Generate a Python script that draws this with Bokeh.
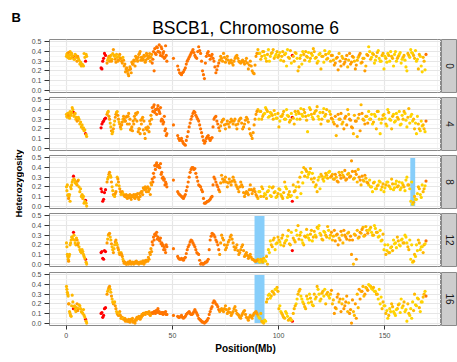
from math import pi

from bokeh.core.properties import value
from bokeh.embed import file_html
from bokeh.layouts import column, row
from bokeh.models import ColumnDataSource, FixedTicker, PrintfTickFormatter, Range1d
from bokeh.plotting import figure
from bokeh.resources import INLINE

# ---------------------------------------------------------------- data
generations = ["0", "4", "8", "12", "16"]

# marker positions along chromosome 6 (Mb); later blocks hold the
# additional markers that interleave with the first set
position_mb = [
    0.1, 0.5, 0.9, 1.3, 1.8, 2.3, 2.8, 3.4, 3.9, 4.5, 5.1, 5.7, 6.4, 7.1, 7.8, 8.4, 9.1, 9.6,
    16.4, 16.8, 17.2, 17.6, 18.0, 18.5,
    19.2, 19.8, 20.4, 21.0, 21.6, 22.2, 22.8, 23.4, 24.0, 24.6, 25.2, 25.8, 26.4, 27.0,
    27.6, 28.2, 28.8, 29.4, 30.0, 30.6, 31.2, 31.8, 32.4, 33.0, 33.6, 34.2, 34.8, 35.4,
    36.0, 36.6, 37.2, 37.8, 38.4, 39.0, 39.6, 40.2,
    40.8, 41.4, 42.0, 42.6, 43.2, 43.8, 44.4, 45.0, 45.6, 46.2, 46.8, 47.4,
    50.5,
    52.5, 53.4, 54.3, 55.2, 56.1, 57.0, 57.9, 58.8, 59.7, 60.6,
    61.5, 62.4, 63.3, 64.2, 65.1, 66.0, 66.9, 67.8, 68.7, 69.6,
    70.5, 71.4, 72.3, 73.2, 74.1, 75.0, 75.9, 76.8, 77.7, 78.6,
    79.5, 80.4, 81.3, 82.2, 83.1, 84.0, 84.9, 85.8, 86.7, 87.6,
    88.5, 89.4, 90.3, 91.2, 92.1, 93.0, 93.9, 94.8, 95.7, 96.6,
    97.5, 98.4, 99.3, 100.2, 101.1, 102.0, 102.9, 103.8, 104.7, 105.6,
    106.5, 107.4, 108.3, 109.2, 110.1, 111.0, 111.9, 112.8, 113.7, 114.6,
    115.5, 116.4, 117.3, 118.2, 119.1, 120.0, 120.9, 121.8, 122.7, 123.6,
    124.5, 125.4, 126.3, 127.2, 128.1, 129.0, 129.9, 130.8, 131.7, 132.6,
    133.5, 134.4, 135.3, 136.2, 137.1, 138.0, 138.9, 139.8, 140.7, 141.6,
    142.5, 143.4, 144.3, 145.2, 146.1, 147.0, 147.9, 148.8, 149.7, 150.6,
    151.5, 152.4, 153.3, 154.2, 155.1, 156.0, 156.9, 157.8, 158.7, 159.6,
    160.5, 161.4, 162.3, 163.2, 164.1, 165.0, 165.9, 166.8, 167.7, 168.6,
    169.5,
    90.75, 91.65, 92.55, 93.45, 94.35, 95.25, 96.15, 97.05, 97.95, 98.85,
    99.75, 100.65, 101.55, 102.45, 103.35, 104.25, 105.15, 106.05, 106.95, 107.85,
    108.75, 109.65, 110.55, 111.45, 112.35, 113.25, 114.15, 115.05, 115.95, 116.85,
    117.75, 118.65, 119.55, 120.45, 121.35, 122.25, 123.15, 124.05, 124.95, 125.85,
    126.75, 127.65, 128.55, 129.45, 130.35, 131.25, 132.15, 133.05, 133.95, 134.85,
    135.75, 136.65, 137.55, 138.45, 139.35, 140.25, 141.15, 142.05, 142.95, 143.85,
    144.75, 145.65, 146.55, 147.45, 148.35, 149.25, 150.15, 151.05, 151.95, 152.85,
    153.75, 154.65, 155.55, 156.45, 157.35, 158.25, 159.15, 160.05, 160.95, 161.85,
    162.75, 163.65, 164.55, 165.45, 166.35, 167.25, 168.15, 169.05,
    0.3, 0.7, 1.1, 1.55, 2.05, 2.55, 3.1, 3.65, 4.2, 4.8, 5.4, 6.0, 6.75, 7.45, 8.1, 8.75, 9.35,
    19.5, 20.1, 20.7, 21.3, 21.9, 22.5, 23.1, 23.7, 24.3, 24.9, 25.5, 26.1, 26.7,
    27.3, 27.9, 28.5, 29.1, 29.7, 30.3, 30.9, 31.5, 32.1, 32.7, 33.3, 33.9, 34.5, 35.1,
    35.7, 36.3, 36.9, 37.5, 38.1, 38.7, 39.3, 39.9,
    40.5, 41.1, 41.7, 42.3, 42.9, 43.5, 44.1, 44.7, 45.3, 45.9, 46.5, 47.1,
    52.95, 53.85, 54.75, 55.65, 56.55, 57.45, 58.35, 59.25, 60.15, 61.05, 61.95,
    62.85, 63.75, 64.65, 65.55, 66.45, 67.35, 68.25, 69.15, 70.05, 70.95, 71.85,
    72.75, 73.65, 74.55, 75.45, 76.35, 77.25, 78.15, 79.05, 79.95, 80.85,
    81.75, 82.65, 83.55, 84.45, 85.35, 86.25, 87.15, 88.05, 88.95, 89.85,
]

# colour class of each marker (0 = red ... 4 = yellow)
shade = [
    3, 3, 3, 3, 3, 3, 3, 0, 3, 3, 2, 3, 3, 3, 3, 3, 0, 3,
    0, 0, 0, 0, 0, 0,
    2, 3, 2, 3, 3, 2, 3, 2, 3, 2, 2, 3, 2, 2,
    2, 2, 2, 2, 2, 2, 2, 2, 2, 2, 2, 2, 2, 2, 2, 2, 2, 2, 2, 2, 2, 2,
    1, 1, 1, 1, 1, 1, 1, 1, 1, 1, 1, 1,
    1,
    1, 1, 1, 1, 1, 1, 1, 1, 1, 1, 1, 1, 1, 1, 1, 1, 1, 1, 1, 1, 1, 1,
    2, 2, 2, 2, 2, 2, 2, 2, 2, 2, 2, 2, 2, 2, 2, 2, 2, 2, 2, 2,
    3, 4, 3, 3, 4, 3, 4, 3, 3, 4, 3, 3, 4, 3, 3, 4, 3, 3,
    0,
    3, 4, 3, 3, 4, 3, 3, 4, 4, 3, 3, 4, 3, 4, 3, 3, 4, 3, 4, 3,
    3, 2, 3, 2, 2, 3, 2, 2, 3, 2, 2, 3, 2, 3, 2, 3, 3, 2, 3,
    4, 3, 4, 4, 3, 4, 4, 3, 4, 3, 4, 4, 3, 4, 4, 3, 4, 4, 3, 4, 4, 3, 4, 4, 3, 4, 3, 4, 4, 3,
    1,
    4, 3, 3, 4, 3, 4, 4, 3, 3, 4, 3, 4, 3, 3, 4, 4, 3, 4, 3, 3,
    4, 3, 4, 4, 3, 3, 4, 3, 4, 3, 3, 4, 4, 3, 4, 3, 3, 4,
    2, 3, 2, 2, 3, 2, 3, 2, 2, 3, 2, 2, 3, 2, 3, 2, 2, 3, 3, 2,
    4, 4, 3, 4, 3, 4, 4, 3, 4, 4, 3, 4, 3, 4, 4, 3, 4, 4, 3, 4,
    3, 4, 4, 3, 4, 4, 3, 4, 3, 4,
    3, 3, 2, 3, 3, 3, 3, 3, 3, 3, 2, 3, 3, 3, 3, 3, 3,
    3, 2, 3, 2, 3, 3, 2, 3, 2, 3, 2, 2, 3,
    2, 2, 2, 2, 2, 2, 2, 2, 2, 2, 2, 2, 2, 2, 2, 2, 2, 2, 2, 2, 2, 2,
    1, 1, 1, 1, 1, 1, 1, 1, 1, 1, 1, 1,
    1, 1, 1, 1, 1, 1, 1, 1, 1, 1, 1, 1, 1, 1, 1, 1, 1, 1, 1, 1, 1, 1,
    2, 2, 2, 2, 2, 2, 2, 2, 2, 2, 2, 2, 2, 2, 2, 2, 2, 2, 2, 2,
]

het_g0 = [
    0.35, 0.38, 0.36, 0.33, 0.40, 0.37, 0.34, 0.35, 0.32, 0.36, 0.30, 0.33, 0.27, 0.25, 0.26, 0.38, 0.30, 0.35,
    0.23, 0.22, 0.30, 0.33, 0.38, 0.36,
    0.28, 0.33, 0.30, 0.36, 0.32, 0.42, 0.35, 0.29, 0.34, 0.31, 0.37, 0.33, 0.28, 0.31,
    0.27, 0.22, 0.20, 0.15, 0.24, 0.18, 0.27, 0.31, 0.25, 0.33, 0.30, 0.37, 0.40, 0.34,
    0.31, 0.36, 0.29, 0.38, 0.33, 0.35, 0.30, 0.37,
    0.32, 0.20, 0.38, 0.45, 0.40, 0.47, 0.36, 0.43, 0.38, 0.33, 0.46, 0.30,
    0.33,
    0.25, 0.18, 0.16, 0.19, 0.23, 0.30, 0.34, 0.38, 0.42, 0.36,
    0.33, 0.45, 0.38, 0.20, 0.12, 0.35, 0.40, 0.32, 0.37, 0.30,
    0.18, 0.25, 0.31, 0.33, 0.38, 0.29, 0.35, 0.28, 0.31, 0.26,
    0.33, 0.36, 0.30, 0.28, 0.31, 0.27, 0.33, 0.22, 0.30, 0.20,
    0.17, 0.35, 0.42, 0.38, 0.35, 0.40, 0.33, 0.37, 0.30, 0.38,
    0.42, 0.35, 0.40, 0.36, 0.31, 0.40, 0.37, 0.25, 0.34, 0.41,
    0.36, 0.30, 0.38, 0.20, 0.33, 0.27, 0.37, 0.40, 0.34, 0.30,
    0.38, 0.43, 0.33, 0.28, 0.37, 0.22, 0.35, 0.41, 0.32, 0.38,
    0.30, 0.36, 0.26, 0.33, 0.21, 0.30, 0.35, 0.27, 0.32, 0.24,
    0.38, 0.29, 0.34, 0.22, 0.31, 0.36, 0.28, 0.33, 0.20, 0.37,
    0.45, 0.32, 0.38, 0.28, 0.35, 0.41, 0.30, 0.36, 0.22, 0.33,
    0.38, 0.30, 0.35, 0.25, 0.40, 0.33, 0.37, 0.28, 0.34, 0.31,
    0.20, 0.36, 0.42, 0.38, 0.33, 0.30, 0.22, 0.35, 0.19, 0.30,
    0.37,
    0.38, 0.32, 0.40, 0.36, 0.30, 0.42, 0.35, 0.39, 0.33, 0.37,
    0.34, 0.39, 0.35, 0.30, 0.38, 0.42, 0.33, 0.28, 0.35, 0.39,
    0.33, 0.24, 0.36, 0.40, 0.31, 0.35, 0.39, 0.33, 0.36, 0.40,
    0.34, 0.30, 0.38, 0.35, 0.29, 0.37, 0.33, 0.40, 0.36, 0.31,
    0.28, 0.34, 0.38, 0.25, 0.33, 0.29, 0.36, 0.31, 0.27, 0.35,
    0.30, 0.26, 0.34, 0.38, 0.29, 0.33, 0.25, 0.36, 0.40, 0.34,
    0.37, 0.31, 0.39, 0.33, 0.30, 0.38, 0.35, 0.29, 0.36, 0.40,
    0.33, 0.37, 0.30, 0.35, 0.39, 0.32, 0.36, 0.24, 0.38, 0.34,
    0.39, 0.36, 0.41, 0.32, 0.37, 0.25, 0.34, 0.21,
    0.37, 0.34, 0.39, 0.36, 0.33, 0.38, 0.35, 0.32, 0.37, 0.34, 0.35, 0.31, 0.29, 0.27, 0.25, 0.34, 0.37,
    0.31, 0.35, 0.33, 0.30, 0.38, 0.36, 0.32, 0.37, 0.30, 0.35, 0.33, 0.30, 0.34,
    0.25, 0.19, 0.23, 0.17, 0.21, 0.22, 0.29, 0.27, 0.30, 0.35, 0.32, 0.34, 0.38, 0.31,
    0.34, 0.32, 0.35, 0.31, 0.36, 0.33, 0.38, 0.34,
    0.28, 0.40, 0.43, 0.37, 0.44, 0.40, 0.39, 0.45, 0.35, 0.40, 0.34, 0.36,
    0.21, 0.17, 0.18, 0.21, 0.27, 0.32, 0.36, 0.40, 0.39, 0.34, 0.40,
    0.41, 0.30, 0.16, 0.28, 0.38, 0.36, 0.35, 0.33, 0.24, 0.21, 0.28,
    0.35, 0.30, 0.34, 0.32, 0.31, 0.29, 0.28, 0.30, 0.35, 0.33,
    0.29, 0.30, 0.29, 0.30, 0.28, 0.26, 0.25, 0.18, 0.26, 0.38,
]

het_g4 = [
    0.35, 0.32, 0.36, 0.33, 0.38, 0.34, 0.42, 0.37, 0.35, 0.30, 0.28, 0.32, 0.25, 0.22, 0.20, 0.18, 0.15, 0.12,
    0.21, 0.25, 0.27, 0.28, 0.30, 0.31,
    0.35, 0.38, 0.30, 0.22, 0.15, 0.20, 0.28, 0.35, 0.38, 0.30, 0.25, 0.20, 0.27, 0.33,
    0.28, 0.32, 0.25, 0.36, 0.30, 0.20, 0.18, 0.25, 0.30, 0.35, 0.37, 0.20, 0.15, 0.25,
    0.32, 0.28, 0.10, 0.20, 0.22, 0.17, 0.25, 0.30,
    0.38, 0.45, 0.40, 0.35, 0.44, 0.38, 0.42, 0.30, 0.25, 0.33, 0.20, 0.15,
    0.24,
    0.13, 0.08, 0.10, 0.05, 0.03, 0.12, 0.22, 0.30, 0.36, 0.37,
    0.32, 0.28, 0.20, 0.12, 0.05, 0.10, 0.13, 0.08, 0.11, 0.30,
    0.33, 0.25, 0.18, 0.27, 0.30, 0.20, 0.28, 0.22, 0.30, 0.25,
    0.30, 0.20, 0.28, 0.31, 0.20, 0.25, 0.32, 0.27, 0.15, 0.10,
    0.24, 0.35, 0.40, 0.38, 0.30, 0.35, 0.42, 0.38, 0.33, 0.36,
    0.30, 0.35, 0.31, 0.22, 0.33, 0.35, 0.30, 0.40, 0.33, 0.29,
    0.32, 0.25, 0.35, 0.38, 0.30, 0.35, 0.40, 0.33, 0.17, 0.42,
    0.35, 0.30, 0.38, 0.43, 0.30, 0.25, 0.37, 0.33, 0.40, 0.28,
    0.35, 0.30, 0.25, 0.13, 0.35, 0.30, 0.25, 0.20, 0.33, 0.40,
    0.30, 0.22, 0.15, 0.28, 0.12, 0.35, 0.45, 0.30, 0.25, 0.33,
    0.38, 0.30, 0.25, 0.35, 0.20, 0.38, 0.15, 0.30, 0.35, 0.25,
    0.40, 0.30, 0.20, 0.35, 0.28, 0.32, 0.38, 0.25, 0.30, 0.36,
    0.22, 0.41, 0.33, 0.28, 0.20, 0.15, 0.25, 0.18, 0.23, 0.20,
    0.28,
    0.30, 0.38, 0.33, 0.36, 0.40, 0.32, 0.37, 0.34, 0.39, 0.31,
    0.36, 0.28, 0.33, 0.38, 0.30, 0.34, 0.27, 0.36, 0.31, 0.38,
    0.30, 0.36, 0.41, 0.33, 0.37, 0.29, 0.34, 0.40, 0.32, 0.36,
    0.39, 0.33, 0.37, 0.30, 0.41, 0.35, 0.28, 0.38, 0.31, 0.27,
    0.33, 0.23, 0.30, 0.36, 0.27, 0.31, 0.24, 0.35, 0.29, 0.21,
    0.34, 0.28, 0.31, 0.18, 0.36, 0.29, 0.33, 0.26, 0.30, 0.35,
    0.27, 0.33, 0.38, 0.30, 0.26, 0.34, 0.31, 0.23, 0.37, 0.29,
    0.33, 0.27, 0.36, 0.30, 0.24, 0.34, 0.38, 0.29, 0.32, 0.26,
    0.35, 0.30, 0.26, 0.33, 0.20, 0.28, 0.24, 0.17,
    0.33, 0.36, 0.34, 0.31, 0.35, 0.37, 0.40, 0.33, 0.36, 0.32, 0.29, 0.30, 0.27, 0.24, 0.21, 0.19, 0.14,
    0.37, 0.33, 0.26, 0.18, 0.17, 0.24, 0.32, 0.37, 0.34, 0.27, 0.22, 0.24, 0.30,
    0.30, 0.28, 0.33, 0.33, 0.25, 0.19, 0.22, 0.28, 0.33, 0.36, 0.28, 0.17, 0.20, 0.29,
    0.30, 0.19, 0.15, 0.21, 0.19, 0.21, 0.28, 0.34,
    0.42, 0.43, 0.37, 0.40, 0.41, 0.40, 0.36, 0.28, 0.29, 0.27, 0.18, 0.13,
    0.10, 0.09, 0.07, 0.04, 0.08, 0.17, 0.26, 0.33, 0.38, 0.34, 0.30,
    0.24, 0.16, 0.08, 0.07, 0.12, 0.10, 0.10, 0.22, 0.32, 0.28, 0.21,
    0.23, 0.29, 0.24, 0.25, 0.25, 0.27, 0.28, 0.28, 0.24, 0.25,
    0.30, 0.26, 0.22, 0.29, 0.30, 0.20, 0.13, 0.16, 0.30, 0.38,
]

het_g8 = [
    0.20, 0.22, 0.12, 0.10, 0.05, 0.18, 0.25, 0.31, 0.27, 0.25, 0.22, 0.27, 0.15, 0.10, 0.08, 0.03, 0.06, 0.00,
    0.18, 0.15, 0.05, 0.07, 0.14, 0.17,
    0.25, 0.30, 0.35, 0.30, 0.20, 0.12, 0.10, 0.15, 0.30, 0.25, 0.18, 0.12, 0.15, 0.12,
    0.10, 0.12, 0.08, 0.10, 0.12, 0.07, 0.10, 0.12, 0.08, 0.10, 0.13, 0.07, 0.10, 0.15,
    0.12, 0.18, 0.20, 0.15, 0.20, 0.17, 0.12, 0.22,
    0.25, 0.30, 0.38, 0.45, 0.42, 0.40, 0.44, 0.35, 0.30, 0.28, 0.25, 0.20,
    0.27,
    0.15, 0.12, 0.10, 0.08, 0.12, 0.20, 0.30, 0.38, 0.40, 0.39,
    0.30, 0.22, 0.20, 0.15, 0.03, 0.04, 0.05, 0.07, 0.10, 0.30,
    0.25, 0.20, 0.15, 0.32, 0.25, 0.30, 0.20, 0.28, 0.22, 0.30,
    0.25, 0.20, 0.15, 0.25, 0.20, 0.10, 0.15, 0.12, 0.22, 0.13,
    0.18, 0.12, 0.08, 0.15, 0.20, 0.10, 0.12, 0.15, 0.20, 0.10,
    0.20, 0.15, 0.10, 0.18, 0.12, 0.08, 0.25, 0.18, 0.12, 0.10,
    0.05, 0.15, 0.20, 0.25, 0.30, 0.35, 0.40, 0.38, 0.30, 0.35,
    0.28, 0.25, 0.20, 0.15, 0.30, 0.33, 0.28, 0.30, 0.32, 0.35,
    0.30, 0.33, 0.28, 0.30, 0.25, 0.32, 0.35, 0.30, 0.27, 0.33,
    0.30, 0.47, 0.28, 0.36, 0.25, 0.30, 0.22, 0.27, 0.32, 0.25,
    0.22, 0.20, 0.15, 0.25, 0.18, 0.22, 0.25, 0.20, 0.15, 0.22,
    0.25, 0.20, 0.28, 0.17, 0.23, 0.20, 0.25, 0.19, 0.22, 0.16,
    0.30, 0.22, 0.05, 0.02, 0.10, 0.07, 0.20, 0.12, 0.22, 0.18,
    0.26,
    0.15, 0.10, 0.18, 0.13, 0.08, 0.16, 0.11, 0.19, 0.14, 0.09,
    0.13, 0.17, 0.10, 0.14, 0.20, 0.09, 0.15, 0.11, 0.22, 0.16,
    0.09, 0.20, 0.13, 0.24, 0.31, 0.36, 0.33, 0.39, 0.34, 0.29,
    0.22, 0.27, 0.18, 0.31, 0.26, 0.34, 0.29, 0.36, 0.31, 0.28,
    0.33, 0.26, 0.35, 0.29, 0.32, 0.37, 0.28, 0.34, 0.31, 0.36,
    0.29, 0.33, 0.38, 0.27, 0.31, 0.26, 0.29, 0.24, 0.27, 0.20,
    0.24, 0.18, 0.21, 0.26, 0.17, 0.23, 0.19, 0.25, 0.21, 0.18,
    0.23, 0.19, 0.26, 0.21, 0.17, 0.24, 0.20, 0.27, 0.22, 0.18,
    0.25, 0.04, 0.07, 0.13, 0.18, 0.09, 0.15, 0.21,
    0.16, 0.11, 0.08, 0.12, 0.20, 0.22, 0.27, 0.28, 0.24, 0.23, 0.26, 0.20, 0.18, 0.12, 0.10, 0.05, 0.03,
    0.28, 0.33, 0.32, 0.25, 0.16, 0.11, 0.13, 0.22, 0.28, 0.21, 0.15, 0.14, 0.13,
    0.11, 0.10, 0.09, 0.11, 0.09, 0.09, 0.11, 0.10, 0.09, 0.12, 0.10, 0.09, 0.13, 0.14,
    0.15, 0.19, 0.17, 0.18, 0.19, 0.15, 0.18, 0.24,
    0.28, 0.34, 0.42, 0.43, 0.41, 0.42, 0.40, 0.33, 0.29, 0.27, 0.22, 0.23,
    0.13, 0.11, 0.09, 0.10, 0.16, 0.25, 0.35, 0.40, 0.38, 0.34, 0.26,
    0.21, 0.17, 0.08, 0.03, 0.05, 0.06, 0.09, 0.22, 0.28, 0.22, 0.17,
    0.24, 0.28, 0.27, 0.25, 0.24, 0.25, 0.26, 0.27, 0.22, 0.18,
    0.20, 0.22, 0.14, 0.13, 0.14, 0.17, 0.17, 0.16, 0.15, 0.10,
]

het_g12 = [
    0.22, 0.10, 0.05, 0.08, 0.20, 0.25, 0.28, 0.33, 0.25, 0.20, 0.25, 0.22, 0.15, 0.12, 0.13, 0.08, 0.05, 0.00,
    0.12, 0.13, 0.06, 0.05, 0.14, 0.13,
    0.22, 0.30, 0.32, 0.25, 0.18, 0.12, 0.20, 0.25, 0.20, 0.15, 0.10, 0.12, 0.08, 0.03,
    0.02, 0.00, 0.01, 0.00, 0.03, 0.00, 0.02, 0.00, 0.01, 0.03, 0.02, 0.00, 0.02, 0.01,
    0.03, 0.00, 0.02, 0.04, 0.03, 0.05, 0.10, 0.13,
    0.20, 0.25, 0.30, 0.33, 0.28, 0.25, 0.27, 0.22, 0.20, 0.18, 0.12, 0.18,
    0.16,
    0.08, 0.05, 0.06, 0.04, 0.07, 0.15, 0.20, 0.25, 0.22, 0.18,
    0.12, 0.10, 0.00, 0.00, 0.01, 0.02, 0.05, 0.25, 0.32, 0.30,
    0.25, 0.20, 0.10, 0.30, 0.25, 0.15, 0.20, 0.25, 0.30, 0.22,
    0.15, 0.20, 0.10, 0.15, 0.20, 0.08, 0.12, 0.06, 0.10, 0.05,
    0.04, 0.03, 0.05, 0.02, 0.04, 0.06, 0.03, 0.00, 0.12, 0.20,
    0.25, 0.15, 0.22, 0.25, 0.20, 0.30, 0.22, 0.25, 0.35, 0.20,
    0.14, 0.25, 0.35, 0.40, 0.30, 0.25, 0.20, 0.28, 0.30, 0.25,
    0.35, 0.28, 0.30, 0.38, 0.40, 0.30, 0.25, 0.33, 0.28, 0.35,
    0.30, 0.25, 0.35, 0.30, 0.20, 0.25, 0.30, 0.35, 0.28, 0.32,
    0.25, 0.10, 0.00, 0.30, 0.35, 0.28, 0.32, 0.38, 0.30, 0.35,
    0.35, 0.38, 0.30, 0.40, 0.33, 0.28, 0.35, 0.25, 0.15, 0.10,
    0.20, 0.12, 0.18, 0.25, 0.22, 0.28, 0.20, 0.25, 0.22, 0.30,
    0.22, 0.15, 0.05, 0.02, 0.10, 0.20, 0.25, 0.15, 0.18, 0.20,
    0.24,
    0.03, 0.05, 0.02, 0.04, 0.08, 0.15, 0.24, 0.18, 0.27, 0.21,
    0.28, 0.23, 0.27, 0.19, 0.24, 0.29, 0.21, 0.33, 0.27, 0.23,
    0.30, 0.26, 0.33, 0.22, 0.29, 0.36, 0.27, 0.31, 0.24, 0.34,
    0.28, 0.37, 0.32, 0.26, 0.34, 0.30, 0.39, 0.27, 0.33, 0.29,
    0.24, 0.31, 0.27, 0.34, 0.22, 0.30, 0.26, 0.33, 0.29, 0.25,
    0.31, 0.05, 0.27, 0.33, 0.36, 0.29, 0.39, 0.32, 0.36, 0.33,
    0.30, 0.37, 0.33, 0.29, 0.24, 0.31, 0.20, 0.14, 0.12, 0.17,
    0.14, 0.21, 0.17, 0.24, 0.19, 0.26, 0.22, 0.28, 0.18, 0.25,
    0.20, 0.03, 0.08, 0.14, 0.22, 0.18, 0.12, 0.21,
    0.18, 0.08, 0.03, 0.10, 0.22, 0.28, 0.26, 0.30, 0.22, 0.27, 0.20, 0.18, 0.13, 0.15, 0.10, 0.06, 0.02,
    0.26, 0.31, 0.28, 0.21, 0.15, 0.16, 0.23, 0.22, 0.17, 0.12, 0.11, 0.10, 0.05,
    0.01, 0.01, 0.00, 0.02, 0.01, 0.01, 0.01, 0.01, 0.02, 0.02, 0.01, 0.01, 0.01, 0.02,
    0.01, 0.03, 0.03, 0.04, 0.04, 0.07, 0.12, 0.16,
    0.23, 0.28, 0.31, 0.30, 0.26, 0.26, 0.24, 0.21, 0.19, 0.15, 0.15, 0.20,
    0.06, 0.05, 0.05, 0.06, 0.11, 0.18, 0.23, 0.24, 0.20, 0.15, 0.11,
    0.04, 0.01, 0.00, 0.02, 0.03, 0.15, 0.29, 0.31, 0.28, 0.23, 0.15,
    0.22, 0.27, 0.20, 0.17, 0.23, 0.28, 0.26, 0.18, 0.17, 0.14,
    0.12, 0.18, 0.14, 0.10, 0.09, 0.08, 0.07, 0.05, 0.03, 0.04,
]

het_g16 = [
    0.38, 0.32, 0.28, 0.20, 0.10, 0.07, 0.29, 0.15, 0.18, 0.12, 0.20, 0.15, 0.18, 0.12, 0.10, 0.08, 0.04, 0.00,
    0.10, 0.11, 0.06, 0.08, 0.15, 0.16,
    0.30, 0.35, 0.38, 0.32, 0.25, 0.20, 0.22, 0.15, 0.10, 0.08, 0.12, 0.05, 0.06, 0.04,
    0.05, 0.03, 0.02, 0.04, 0.01, 0.03, 0.05, 0.02, 0.00, 0.03, 0.05, 0.07, 0.04, 0.06,
    0.08, 0.10, 0.09, 0.11, 0.10, 0.12, 0.08, 0.10,
    0.10, 0.12, 0.10, 0.11, 0.15, 0.12, 0.10, 0.11, 0.09, 0.10, 0.12, 0.09,
    0.08,
    0.07, 0.06, 0.08, 0.05, 0.07, 0.10, 0.12, 0.09, 0.10, 0.14,
    0.10, 0.05, 0.03, 0.01, 0.00, 0.02, 0.05, 0.12, 0.17, 0.23,
    0.20, 0.17, 0.12, 0.15, 0.12, 0.18, 0.10, 0.15, 0.08, 0.12,
    0.17, 0.10, 0.08, 0.05, 0.10, 0.13, 0.06, 0.03, 0.08, 0.05,
    0.10, 0.12, 0.08, 0.05, 0.02, 0.00, 0.02, 0.25, 0.30, 0.28,
    0.32, 0.35, 0.37, 0.15, 0.12, 0.08, 0.05, 0.10, 0.03, 0.05,
    0.02, 0.15, 0.20, 0.30, 0.35, 0.25, 0.20, 0.15, 0.25, 0.30,
    0.22, 0.18, 0.25, 0.38, 0.30, 0.25, 0.33, 0.35, 0.30, 0.28,
    0.30, 0.20, 0.10, 0.15, 0.30, 0.25, 0.20, 0.15, 0.22, 0.12,
    0.10, 0.00, 0.12, 0.20, 0.30, 0.35, 0.33, 0.38, 0.30, 0.36,
    0.40, 0.38, 0.35, 0.33, 0.30, 0.25, 0.20, 0.15, 0.18, 0.10,
    0.05, 0.15, 0.20, 0.12, 0.08, 0.15, 0.20, 0.25, 0.18, 0.12,
    0.02, 0.10, 0.15, 0.22, 0.30, 0.18, 0.25, 0.12, 0.22, 0.30,
    0.28,
    0.06, 0.10, 0.01, 0.03, 0.22, 0.29, 0.26, 0.33, 0.30, 0.35,
    0.33, 0.18, 0.10, 0.06, 0.12, 0.07, 0.04, 0.03, 0.10, 0.18,
    0.25, 0.33, 0.28, 0.22, 0.17, 0.28, 0.21, 0.26, 0.19, 0.30,
    0.27, 0.35, 0.23, 0.31, 0.28, 0.20, 0.32, 0.26, 0.34, 0.24,
    0.16, 0.27, 0.22, 0.12, 0.25, 0.18, 0.28, 0.21, 0.14, 0.24,
    0.08, 0.05, 0.16, 0.25, 0.33, 0.28, 0.37, 0.34, 0.39, 0.36,
    0.37, 0.33, 0.30, 0.35, 0.27, 0.22, 0.18, 0.13, 0.08, 0.12,
    0.17, 0.10, 0.14, 0.19, 0.11, 0.16, 0.22, 0.14, 0.20, 0.08,
    0.05, 0.13, 0.19, 0.26, 0.16, 0.22, 0.27, 0.33,
    0.35, 0.30, 0.20, 0.12, 0.08, 0.18, 0.22, 0.17, 0.14, 0.16, 0.13, 0.19, 0.15, 0.11, 0.14, 0.06, 0.02,
    0.33, 0.37, 0.35, 0.28, 0.22, 0.21, 0.18, 0.12, 0.09, 0.10, 0.08, 0.05, 0.05,
    0.04, 0.02, 0.03, 0.02, 0.02, 0.04, 0.03, 0.01, 0.02, 0.04, 0.06, 0.05, 0.05, 0.07,
    0.09, 0.10, 0.10, 0.11, 0.11, 0.10, 0.09, 0.10,
    0.11, 0.11, 0.12, 0.13, 0.13, 0.11, 0.10, 0.10, 0.11, 0.11, 0.10, 0.09,
    0.06, 0.07, 0.06, 0.06, 0.09, 0.11, 0.10, 0.09, 0.12, 0.12, 0.08,
    0.04, 0.02, 0.01, 0.01, 0.03, 0.09, 0.15, 0.21, 0.22, 0.19, 0.14,
    0.14, 0.13, 0.15, 0.14, 0.12, 0.11, 0.10, 0.15, 0.13, 0.09,
    0.06, 0.08, 0.12, 0.09, 0.05, 0.06, 0.07, 0.08, 0.11, 0.10,
]

het_by_gen = [het_g0, het_g4, het_g8, het_g12, het_g16]

# highlighted intervals (Mb) and the generation panel they belong to
region_gen = ["8", "12", "16"]
region_start = [162.1, 88.7, 88.7]
region_end = [164.4, 93.4, 93.4]
region_top = [0.5, 0.5, 0.5]

palette = ["#FF0000", "#FF7400", "#FF9C00", "#FFB900", "#FFD300"]

for series in het_by_gen:
    assert len(series) == len(position_mb) == len(shade), (len(series), len(position_mb), len(shade))

# ---------------------------------------------------------------- layout
FONT = "Liberation Sans"
TOTAL_W, TOTAL_H = 457, 362
HEADER_H = 37
LABEL_W = 24                      # column holding the shared y-axis title
PANEL_W, PANEL_H, STRIP_W = 392, 53, 16
LEFT = 49 - LABEL_W               # room for the y tick labels
X_RANGE = (-7.9, 176.8)
Y_RANGE = (-0.025, 0.525)
# (top border, bottom border) around each facet frame
borders = [(2, 3), (2, 3), (2, 3), (2, 3), (3, 37)]


def blank(w, h, x_range, y_range):
    f = figure(frame_width=w, frame_height=h, min_border=0,
               x_range=x_range, y_range=y_range,
               x_axis_type=None, y_axis_type=None, toolbar_location=None,
               output_backend="svg", outline_line_color=None,
               border_fill_color="#FFFFFF", background_fill_color="#FFFFFF")
    f.grid.visible = False
    return f


header = blank(TOTAL_W, HEADER_H, Range1d(0, TOTAL_W), Range1d(0, HEADER_H))
header.text(x=[11], y=[HEADER_H - 16.5], text=["B"], text_font=value(FONT),
            text_font_style="bold", text_font_size="13px", text_color="#000000",
            text_align="left", text_baseline="alphabetic")
header.text(x=[245], y=[HEADER_H - 27.5], text=["BSCB1, Chromosome 6"],
            text_font=value(FONT), text_font_size="17.5px", text_color="#000000",
            text_align="center", text_baseline="middle")

body_h = TOTAL_H - HEADER_H
ylab = blank(LABEL_W, body_h, Range1d(0, LABEL_W), Range1d(0, body_h))
ylab.text(x=[18], y=[TOTAL_H - 183], text=["Heterozygosity"], angle=pi / 2,
          text_font=value(FONT), text_font_style="bold", text_font_size="9.5px",
          text_color="#000000", text_align="center", text_baseline="middle")

panel_rows = []
for i, gen in enumerate(generations):
    top, bottom = borders[i]
    last = i == len(generations) - 1
    p = figure(frame_width=PANEL_W, frame_height=PANEL_H,
               min_border_left=LEFT, min_border_right=0,
               min_border_top=top, min_border_bottom=bottom,
               x_range=Range1d(*X_RANGE), y_range=Range1d(*Y_RANGE),
               toolbar_location=None, output_backend="svg",
               background_fill_color="#FFFFFF", border_fill_color="#FFFFFF",
               outline_line_color="#8A8A8A", outline_line_width=1)

    p.xaxis.ticker = FixedTicker(ticks=[0, 50, 100, 150], minor_ticks=[25, 75, 125, 175])
    p.yaxis.ticker = FixedTicker(ticks=[0.0, 0.1, 0.2, 0.3, 0.4, 0.5],
                                 minor_ticks=[0.05, 0.15, 0.25, 0.35, 0.45])
    p.yaxis.formatter = PrintfTickFormatter(format="%.1f")
    p.grid.grid_line_color = "#E6E6E6"
    p.grid.grid_line_width = 1.2
    p.grid.minor_grid_line_color = "#F2F2F2"
    p.grid.minor_grid_line_width = 0.8

    for ax in (p.xaxis, p.yaxis):
        ax.axis_line_color = None
        ax.major_tick_in = 0
        ax.major_tick_out = 5
        ax.minor_tick_in = 0
        ax.minor_tick_out = 0
        ax.major_tick_line_color = "#333333"
        ax.major_label_text_font = FONT
        ax.major_label_text_font_size = "7px"
        ax.major_label_text_color = "#4D4D4D"
        ax.major_label_standoff = 3
        ax.axis_label_text_font = FONT
        ax.axis_label_text_font_style = "bold"
        ax.axis_label_text_font_size = "10px"
        ax.axis_label_text_color = "#000000"

    if last:
        p.xaxis.axis_label = "Position(Mb)"
        p.xaxis.axis_label_standoff = 2
        p.xaxis.major_tick_out = 4
    else:
        p.xaxis.visible = False

    # highlighted interval(s) for this generation, under the points
    sel = [k for k, g in enumerate(region_gen) if g == gen]
    if sel:
        p.quad(left=[region_start[k] for k in sel], right=[region_end[k] for k in sel],
               bottom=0, top=[region_top[k] for k in sel],
               fill_color="#87CEFA", line_color=None)

    src = ColumnDataSource(dict(
        pos=position_mb,
        het=het_by_gen[i],
        color=[palette[s] for s in shade],
    ))
    p.scatter("pos", "het", source=src, size=3.2, fill_color="color",
              line_color=None)

    strip = figure(frame_width=STRIP_W, frame_height=PANEL_H,
                   min_border_left=0, min_border_right=0,
                   min_border_top=top, min_border_bottom=bottom,
                   x_range=Range1d(0, 1), y_range=Range1d(0, 1),
                   x_axis_type=None, y_axis_type=None,
                   toolbar_location=None, output_backend="svg",
                   background_fill_color="#CDCDCD", border_fill_color="#FFFFFF",
                   outline_line_color="#8A8A8A", outline_line_width=1)
    strip.grid.visible = False
    strip.text(x=[0.5], y=[0.5], text=[gen], angle=-pi / 2,
               text_font=value(FONT), text_font_size="10px", text_color="#1A1A1A",
               text_align="center", text_baseline="middle")

    panel_rows.append(row(p, strip, spacing=0))

layout = column(header, row(ylab, column(*panel_rows, spacing=0), spacing=0), spacing=0)
open("out.html", "w").write(file_html(layout, INLINE))
